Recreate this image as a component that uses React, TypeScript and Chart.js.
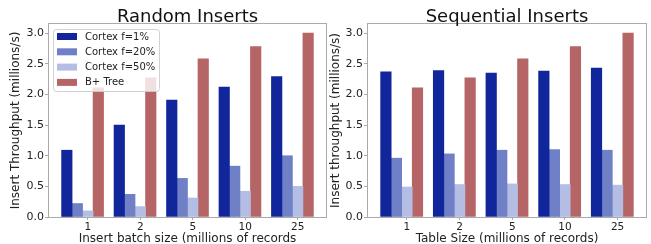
import React, { useEffect, useRef } from "react";
import { Chart, registerables } from "chart.js";

Chart.register(...registerables);

// ---------- data ----------
const categories = ["1", "2", "5", "10", "25"];
const seriesLabels = ["Cortex f=1%", "Cortex f=20%", "Cortex f=50%", "B+ Tree"];
const seriesColors = ["#11269b", "#7080c6", "#b4bee4", "#b56566"];

const randomF1 = [1.09, 1.5, 1.91, 2.12, 2.29];
const randomF20 = [0.22, 0.37, 0.63, 0.83, 1.0];
const randomF50 = [0.1, 0.17, 0.31, 0.42, 0.5];
const randomBTree = [2.11, 2.27, 2.58, 2.78, 3.0];

const seqF1 = [2.37, 2.39, 2.35, 2.38, 2.43];
const seqF20 = [0.96, 1.03, 1.09, 1.1, 1.09];
const seqF50 = [0.49, 0.53, 0.54, 0.53, 0.52];
const seqBTree = [2.11, 2.27, 2.58, 2.78, 3.0];

const yTickStep = 0.5;
const yMax = 3.15;

// ---------- layout constants ----------
const BAR_W = 0.2;
const X_MIN = -0.34;
const X_MAX = 4.94;
const TICK_SHIFT = 0.4;
const FONT = '"DejaVu Sans", sans-serif';
const TEXT = "#222222";
const SPINE = "#aaaaaa";

const titlePlugin = (text: string) => ({
  id: "panelTitle",
  afterDraw(chart: any) {
    const { ctx, chartArea } = chart;
    ctx.save();
    ctx.font = `18px ${FONT}`;
    ctx.fillStyle = "#111";
    ctx.textAlign = "center";
    ctx.textBaseline = "alphabetic";
    ctx.fillText(text, (chartArea.left + chartArea.right) / 2, 21.5);
    ctx.restore();
  },
});

const framePlugin = {
  id: "frame",
  afterDatasetsDraw(chart: any) {
    const { ctx, chartArea } = chart;
    ctx.save();
    ctx.strokeStyle = SPINE;
    ctx.lineWidth = 1;
    const l = Math.round(chartArea.left) - 0.5;
    const t = Math.round(chartArea.top) - 0.5;
    const r = Math.round(chartArea.right) + 0.5;
    const b = Math.round(chartArea.bottom) + 0.5;
    ctx.strokeRect(l, t, r - l, b - t);
    ctx.restore();
  },
};

const legendPlugin = {
  id: "boxLegend",
  afterDraw(chart: any) {
    const { ctx } = chart;
    const x0 = 53.5;
    const y0 = 29.5;
    const w = 106;
    const h = 62;
    ctx.save();
    ctx.beginPath();
    (ctx as any).roundRect(x0, y0, w, h, 3);
    ctx.fillStyle = "rgba(255,255,255,0.8)";
    ctx.fill();
    ctx.strokeStyle = "rgba(204,204,204,0.9)";
    ctx.lineWidth = 1;
    ctx.stroke();
    ctx.font = `10px ${FONT}`;
    ctx.textAlign = "left";
    ctx.textBaseline = "middle";
    chart.data.datasets.forEach((ds: any, i: number) => {
      const cy = 36.5 + i * 15.3;
      ctx.fillStyle = ds.backgroundColor;
      ctx.fillRect(57, cy - 3.5, 20, 7);
      ctx.fillStyle = TEXT;
      ctx.fillText(ds.label, 85, cy + 0.5);
    });
    ctx.restore();
  },
};

type PanelProps = {
  width: number;
  left: number;
  title: string;
  xTitle: string;
  yTitle: string;
  series: number[][];
  yAxisWidth: number;
  padRight: number;
  yTitlePad: number;
  showLegend: boolean;
};

function Panel(p: PanelProps) {
  const ref = useRef<HTMLCanvasElement | null>(null);
  useEffect(() => {
    if (!ref.current) return;
    const datasets = p.series.map((vals, k) => ({
      label: seriesLabels[k],
      data: vals.map((v, i) => ({ x: i + k * BAR_W, y: v })),
      backgroundColor: seriesColors[k],
      borderWidth: 0,
      grouped: false,
      barPercentage: 1,
      categoryPercentage: 1,
    }));
    const plugins: any[] = [titlePlugin(p.title), framePlugin];
    if (p.showLegend) plugins.push(legendPlugin);
    const chart = new Chart(ref.current, {
      type: "bar",
      data: { datasets } as any,
      plugins,
      options: {
        animation: false,
        responsive: false,
        devicePixelRatio: 1,
        events: [],
        layout: { padding: { top: 24, right: p.padRight, bottom: 0, left: 0 } },
        plugins: {
          legend: { display: false },
          title: { display: false },
          tooltip: { enabled: false },
        },
        scales: {
          x: {
            type: "linear",
            min: X_MIN,
            max: X_MAX,
            offset: false,
            afterBuildTicks: (scale: any) => {
              scale.ticks = categories.map((_, i) => ({ value: i + TICK_SHIFT }));
            },
            afterFit: (scale: any) => {
              scale.height = 27;
            },
            ticks: {
              callback: (_v: any, i: number) => categories[i],
              font: { family: FONT, size: 10.5 },
              color: TEXT,
              padding: 1,
              maxRotation: 0,
              autoSkip: false,
            },
            grid: {
              drawOnChartArea: false,
              offset: false,
              tickLength: 3,
              color: SPINE,
            },
            border: { display: false },
            title: {
              display: true,
              text: p.xTitle,
              font: { family: FONT, size: 12, lineHeight: 0.8 },
              color: TEXT,
              padding: { top: 0, bottom: 0 },
            },
          },
          y: {
            type: "linear",
            min: 0,
            max: yMax,
            afterFit: (scale: any) => {
              scale.width = p.yAxisWidth;
            },
            ticks: {
              stepSize: yTickStep,
              includeBounds: false,
              callback: (v: any) => Number(v).toFixed(1),
              font: { family: FONT, size: 11 },
              color: TEXT,
              padding: 1,
            },
            grid: {
              drawOnChartArea: false,
              tickLength: 4,
              color: SPINE,
            },
            border: { display: false },
            title: {
              display: true,
              text: p.yTitle,
              font: { family: FONT, size: 12 },
              color: TEXT,
              padding: { top: p.yTitlePad, bottom: 0 },
            },
          },
        },
      } as any,
    });
    return () => chart.destroy();
  }, []);
  return (
    <canvas
      ref={ref}
      width={p.width}
      height={244}
      style={{ position: "absolute", left: p.left, top: 0, width: p.width, height: 244 }}
    />
  );
}

export default function App() {
  return (
    <div style={{ position: "absolute", left: 0, top: 0, width: 651, height: 244, background: "#fff" }}>
      <Panel
        width={328}
        left={0}
        title="Random Inserts"
        xTitle="Insert batch size (millions of records"
        yTitle="Insert Throughput (millions/s)"
        series={[randomF1, randomF20, randomF50, randomBTree]}
        yAxisWidth={49}
        padRight={2}
        yTitlePad={9}
        showLegend={true}
      />
      <Panel
        width={323}
        left={328}
        title="Sequential Inserts"
        xTitle="Table Size (millions of records)"
        yTitle="Insert throughput (millions/s)"
        series={[seqF1, seqF20, seqF50, seqBTree]}
        yAxisWidth={40}
        padRight={5}
        yTitlePad={0.8}
        showLegend={false}
      />
    </div>
  );
}
